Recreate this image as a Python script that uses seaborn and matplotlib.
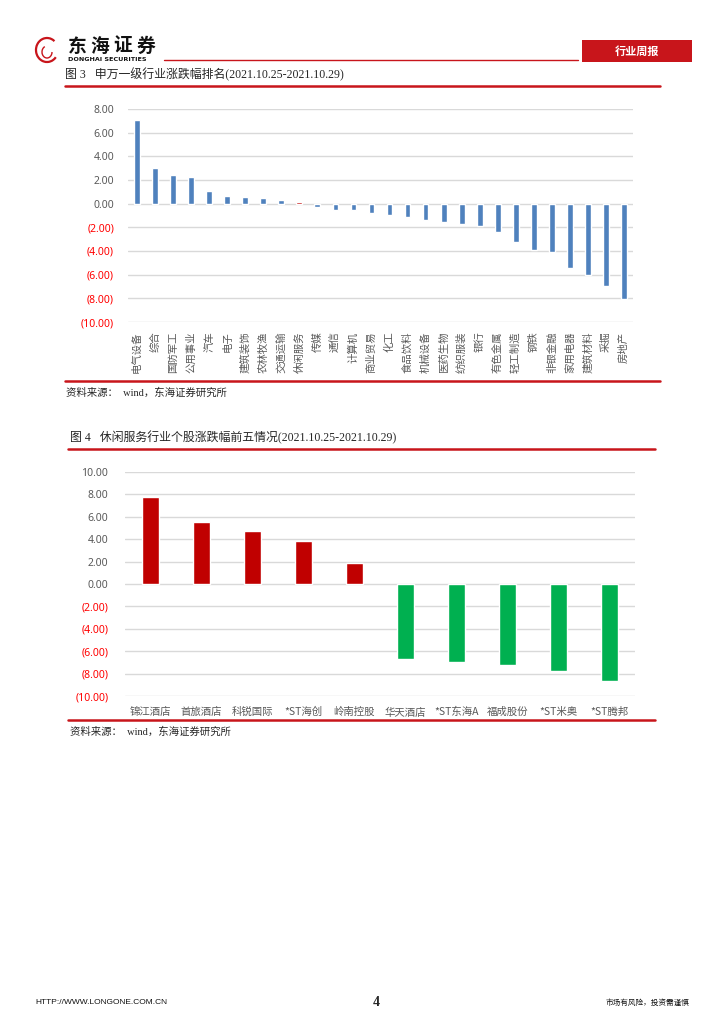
import matplotlib
matplotlib.use("Agg")
import matplotlib.pyplot as plt
import seaborn as sns
import pandas as pd
from matplotlib.patches import Rectangle, Arc
from matplotlib.lines import Line2D

# ---------------- data ----------------
industries = ["电气设备", "综合", "国防军工", "公用事业", "汽车", "电子", "建筑装饰", "农林牧渔",
              "交通运输", "休闲服务", "传媒", "通信", "计算机", "商业贸易", "化工", "食品饮料",
              "机械设备", "医药生物", "纺织服装", "银行", "有色金属", "轻工制造", "钢铁", "非银金融",
              "家用电器", "建筑材料", "采掘", "房地产"]
industry_change = [7.05, 3.02, 2.40, 2.26, 1.07, 0.62, 0.54, 0.45,
                   0.28, 0.17, -0.30, -0.55, -0.52, -0.79, -1.00, -1.13,
                   -1.41, -1.53, -1.72, -1.89, -2.40, -3.28, -3.90, -4.07,
                   -5.45, -6.07, -6.92, -8.05]
highlight_industry = "休闲服务"

stocks = ["锦江酒店", "首旅酒店", "科锐国际", "*ST海创", "岭南控股",
          "华天酒店", "*ST东海A", "福成股份", "*ST米奥", "*ST腾邦"]
stock_change = [7.80, 5.52, 4.69, 3.88, 1.85, -6.66, -6.96, -7.19, -7.79, -8.69]

yticks1 = list(range(-10, 9, 2))
yticks2 = list(range(-10, 11, 2))

title1 = "图 3   申万一级行业涨跌幅排名(2021.10.25-2021.10.29)"
title2 = "图 4   休闲服务行业个股涨跌幅前五情况(2021.10.25-2021.10.29)"
source = "资料来源：  wind，东海证券研究所"

# ---------------- style ----------------
BLUE = "#4F81BD"
RED = "#C00000"
GREEN = "#00B050"
LINE_RED = "#C8151B"
GRID = "#D9D9D9"
TICK = "#595959"

sns.set_theme(style="white")
plt.rcParams["font.family"] = ["Noto Sans CJK SC", "DejaVu Sans"]
SERIF = ["Liberation Serif", "Noto Sans CJK SC"]

W, H = 724, 1024
fig = plt.figure(figsize=(W / 100, H / 100), dpi=100)


def fx(x):
    return x / W


def fy(y):
    return 1 - y / H


def hline(x0, x1, y, lw=1.0, color=LINE_RED):
    fig.add_artist(Line2D([fx(x0), fx(x1)], [fy(y), fy(y)], color=color, lw=lw,
                          transform=fig.transFigure))


def fmt(v):
    return f"({abs(v):.2f})" if v < 0 else f"{v:.2f}"


def style_axis(ax, ticks, pad):
    ax.set_yticks(ticks)
    ax.set_yticklabels([fmt(t) for t in ticks], fontsize=7.5, family=["Noto Sans", "DejaVu Sans"])
    for lab, t in zip(ax.get_yticklabels(), ticks):
        lab.set_color("#FF0000" if t < 0 else TICK)
    ax.set_ylim(ticks[0], ticks[-1])
    ax.yaxis.grid(True, color=GRID, linewidth=1.0)
    ax.xaxis.grid(False)
    ax.set_axisbelow(True)
    for s in ax.spines.values():
        s.set_visible(False)
    ax.tick_params(axis="both", length=0)
    ax.tick_params(axis="y", pad=pad)
    ax.set_xlabel("")
    ax.set_ylabel("")


# ---------------- header ----------------
# logo
fig.add_artist(Arc((fx(47), fy(50)), 22 / W, 24 / H, theta1=40, theta2=330,
                   color=LINE_RED, lw=1.6, transform=fig.transFigure))
fig.add_artist(Arc((fx(47), fy(52)), 10 / W, 12 / H, theta1=120, theta2=360,
                   color=LINE_RED, lw=1.0, transform=fig.transFigure))
for i, ch in enumerate("东海证券"):
    fig.text(fx(77 + i * 23), fy(46), ch, fontsize=13.5, fontweight="bold",
             ha="center", va="center", color="#111111")
fig.text(fx(68), fy(59.5), "DONGHAI SECURITIES", fontsize=4.6, fontweight="bold",
         ha="left", va="center", color="#111111", family=["DejaVu Sans"])
hline(164, 578, 59.5, lw=1.0)
fig.add_artist(Rectangle((fx(582), fy(62)), 110 / W, 22 / H, facecolor=LINE_RED,
                         edgecolor="none", transform=fig.transFigure))
fig.text(fx(637), fy(51), "行业周报", fontsize=8, fontweight="bold", color="white",
         ha="center", va="center")

# ---------------- chart 1 ----------------
fig.text(fx(65), fy(75), title1, fontsize=8.6, ha="left", va="center", family=SERIF)
hline(65, 660, 86, lw=1.8)

ax1 = fig.add_axes([fx(128), fy(322), (633 - 128) / W, (322 - 109) / H])
df1 = pd.DataFrame({"industry": industries, "change": industry_change})
pal1 = {c: (RED if c == highlight_industry else BLUE) for c in industries}
sns.barplot(data=df1, x="industry", y="change", hue="industry", palette=pal1,
            legend=False, width=0.32, ax=ax1, saturation=1)
style_axis(ax1, yticks1, pad=10)
ax1.tick_params(axis="x", pad=7)
ax1.set_xticks(range(len(industries)))
ax1.set_xticklabels(industries, rotation=90, fontsize=7.5, color=TICK, ha="center", va="top")

hline(65, 660, 381, lw=1.8)
fig.text(fx(66), fy(393), source, fontsize=7.5, ha="left", va="center", family=SERIF)

# ---------------- chart 2 ----------------
fig.text(fx(70), fy(438), title2, fontsize=8.6, ha="left", va="center", family=SERIF)
hline(68, 655, 449, lw=1.8)

ax2 = fig.add_axes([fx(125), fy(696), (635 - 125) / W, (696 - 472) / H])
df2 = pd.DataFrame({"stock": stocks, "change": stock_change})
pal2 = {s: (RED if v >= 0 else GREEN) for s, v in zip(stocks, stock_change)}
sns.barplot(data=df2, x="stock", y="change", hue="stock", palette=pal2,
            legend=False, width=0.32, ax=ax2, saturation=1)
style_axis(ax2, yticks2, pad=12)
ax2.tick_params(axis="x", pad=8)
ax2.set_xticks(range(len(stocks)))
ax2.set_xticklabels(stocks, fontsize=7.5, color=TICK)

hline(68, 655, 720, lw=1.8)
fig.text(fx(70), fy(732), source, fontsize=7.5, ha="left", va="center", family=SERIF)

# ---------------- footer ----------------
fig.text(fx(35), fy(1003), "HTTP://WWW.LONGONE.COM.CN", fontsize=6, ha="left", va="center",
         family=["Liberation Sans"], color="#111111")
fig.text(fx(376), fy(1002), "4", fontsize=10, fontweight="bold", ha="center", va="center",
         family=["Liberation Serif"])
fig.text(fx(690), fy(1003), "市场有风险，投资需谨慎", fontsize=5.5, ha="right", va="center",
         color="#111111")

fig.savefig("out.png", dpi=100)
